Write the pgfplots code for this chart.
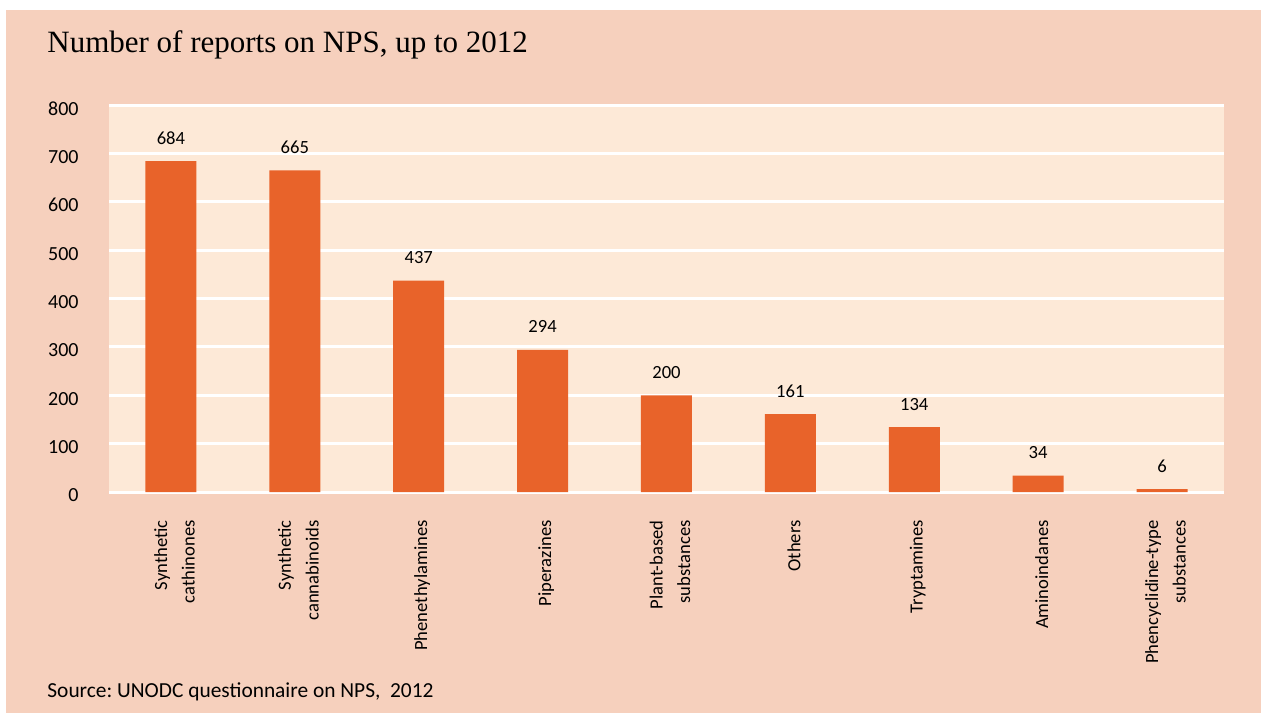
\documentclass[border=0pt]{standalone}
\usepackage{fontspec}
\setmainfont{Carlito}
\newfontfamily\titlefont{Liberation Serif}
\usepackage{pgfplots}
\pgfplotsset{compat=1.18}
\definecolor{outerbg}{HTML}{F6D0BD}
\definecolor{plotbg}{HTML}{FDE9D7}
\definecolor{barcolor}{HTML}{E8632A}
\frenchspacing
\begin{document}
\begin{tikzpicture}[x=1pt,y=1pt]
\path[use as bounding box] (0,0) rectangle (630.5,356.5);
\fill[outerbg] (3,0) rectangle (630.5,351.5);
\node[anchor=base west, inner sep=0pt, font=\titlefont\fontsize{15.5}{18}\selectfont] at (23.5,330) {Number of reports on NPS, up to 2012};
\node[anchor=base west, inner sep=0pt, font=\fontsize{10.7}{12}\selectfont] at (23.5,8) {Source: UNODC questionnaire on NPS,\ \ 2012};
\begin{axis}[
  at={(54.5pt,110.5pt)}, anchor=south west,
  width=557.5pt, height=193.5pt, scale only axis,
  xmin=-0.5, xmax=8.5, ymin=0, ymax=800,
  axis background/.style={fill=plotbg},
  axis line style={draw=none},
  ytick={0,100,...,800},
  ymajorgrids, grid style={white, line width=1.5pt},
  major tick length=0pt,
  xtick={0,...,8},
  xticklabels={{Synthetic\\cathinones},{Synthetic\\cannabinoids},Phenethylamines,Piperazines,{Plant-based\\substances},Others,Tryptamines,Aminoindanes,{Phencyclidine-type\\substances}},
  xticklabel style={rotate=90, anchor=east, align=right, inner sep=0pt, xshift=-14pt, yshift=-1.75pt, font=\fontsize{9.3}{13.8}\selectfont},
  yticklabel style={anchor=east, inner sep=0pt, xshift=-15pt, yshift=-1.75pt, font=\fontsize{10}{12}\selectfont},
  /pgf/number format/assume math mode=true,
  clip=false,
]
\addplot[ybar, bar width=25.5pt, fill=barcolor, draw=none,
  nodes near coords,
  every node near coord/.style={anchor=center, yshift=11.5pt, font=\fontsize{9.3}{11}\selectfont, text=black}]
  coordinates {(0,684) (1,665) (2,437) (3,294) (4,200) (5,161) (6,134) (7,34) (8,6)};
\end{axis}
\end{tikzpicture}
\end{document}
